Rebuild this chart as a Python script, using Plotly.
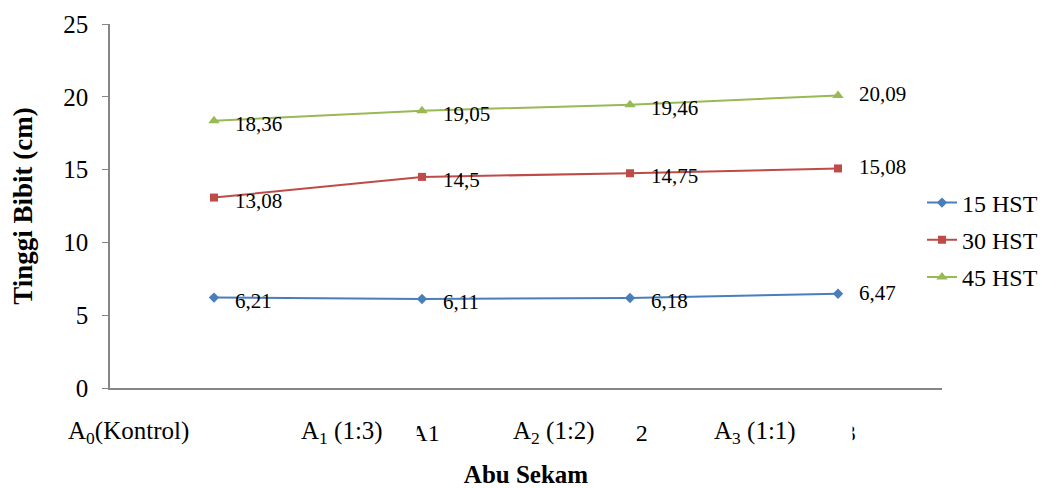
import plotly.graph_objects as go

categories = ["A0", "A1", "A2", "A3"]
series_names = ["15 HST", "30 HST", "45 HST"]
hst15 = [6.21, 6.11, 6.18, 6.47]
hst30 = [13.08, 14.5, 14.75, 15.08]
hst45 = [18.36, 19.05, 19.46, 20.09]
group_labels = ["A<sub>0</sub>(Kontrol)", "A<sub>1</sub> (1:3)", "A<sub>2</sub> (1:2)", "A<sub>3</sub> (1:1)"]
y_ticks = [0, 5, 10, 15, 20, 25]

colors = ["#4A7EBB", "#BE4B48", "#98B954"]
symbols = ["diamond", "square", "triangle-up"]
msizes = [8, 8, 10]
FONT = "Liberation Serif"

fig = go.Figure()
for name, vals, c, s, ms in zip(series_names, [hst15, hst30, hst45], colors, symbols, msizes):
    fig.add_trace(go.Scatter(
        x=categories, y=vals, name=name, mode="lines+markers",
        line=dict(color=c, width=2), marker=dict(symbol=s, size=ms, color=c),
        legendgroup=name,
    ))

annotations = []
for vals in [hst15, hst30, hst45]:
    for i, (cat, v) in enumerate(zip(categories, vals)):
        last = i == len(vals) - 1
        annotations.append(dict(
            x=cat, y=v, xref="x", yref="y", text=f"{v:g}".replace(".", ","),
            showarrow=False, xanchor="left", yanchor="middle",
            xshift=19, yshift=(1 if last else -3),
            font=dict(family=FONT, size=21, color="black"),
        ))

# plot area in window pixels: x 110..942, y 24..388
def px_x(px):
    return (px - 110) / 832

def px_y(py):
    return (388 - py) / 364

label_x_px = [128, 342, 554, 755]
for lx, txt in zip(label_x_px, group_labels):
    annotations.append(dict(
        x=px_x(lx), y=px_y(432), xref="paper", yref="paper",
        text=txt, showarrow=False, xanchor="center", yanchor="middle",
        font=dict(family=FONT, size=25, color="black"),
    ))

# white boxes partly hiding the category tick labels
shapes = []
for x0, x1 in [(-0.5, 0.975), (1.3, 2.03), (2.3, 3.07)]:
    shapes.append(dict(type="rect", xref="x", yref="paper", x0=x0, x1=x1,
                       y0=px_y(412), y1=px_y(452),
                       fillcolor="white", line=dict(width=0), layer="above"))

fig.update_layout(
    width=1039, height=480,
    margin=dict(l=102, r=105, t=16, b=100, autoexpand=False),
    paper_bgcolor="white", plot_bgcolor="white",
    font=dict(family=FONT, size=22, color="black"),
    showlegend=True,
    legend=dict(x=px_x(922), y=px_y(240), xanchor="left", yanchor="middle",
                font=dict(family=FONT, size=24, color="black"),
                tracegroupgap=3, bgcolor="rgba(0,0,0,0)"),
    annotations=annotations,
    shapes=shapes,
)
fig.update_xaxes(
    type="category", range=[-0.5, 3.5], showline=True, linecolor="#868686", linewidth=1.5,
    showgrid=False, zeroline=False, ticks="", ticklabelstandoff=22, ticklabelshift=3,
    automargin=False,
    tickfont=dict(family=FONT, size=24, color="black"),
    title=dict(text="<b>Abu Sekam</b>", font=dict(family=FONT, size=25, color="black"), standoff=37),
)
fig.update_yaxes(
    range=[0, 25], tickvals=y_ticks, showline=True, linecolor="#868686", linewidth=1.5,
    showgrid=False, zeroline=False, ticks="outside", ticklen=6, tickcolor="#868686",
    ticklabelstandoff=9, automargin=False,
    tickfont=dict(family=FONT, size=25, color="black"),
    title=dict(text="<b>Tinggi Bibit (cm)</b>", font=dict(family=FONT, size=27, color="black"), standoff=25),
)

fig.write_html("out.html")
